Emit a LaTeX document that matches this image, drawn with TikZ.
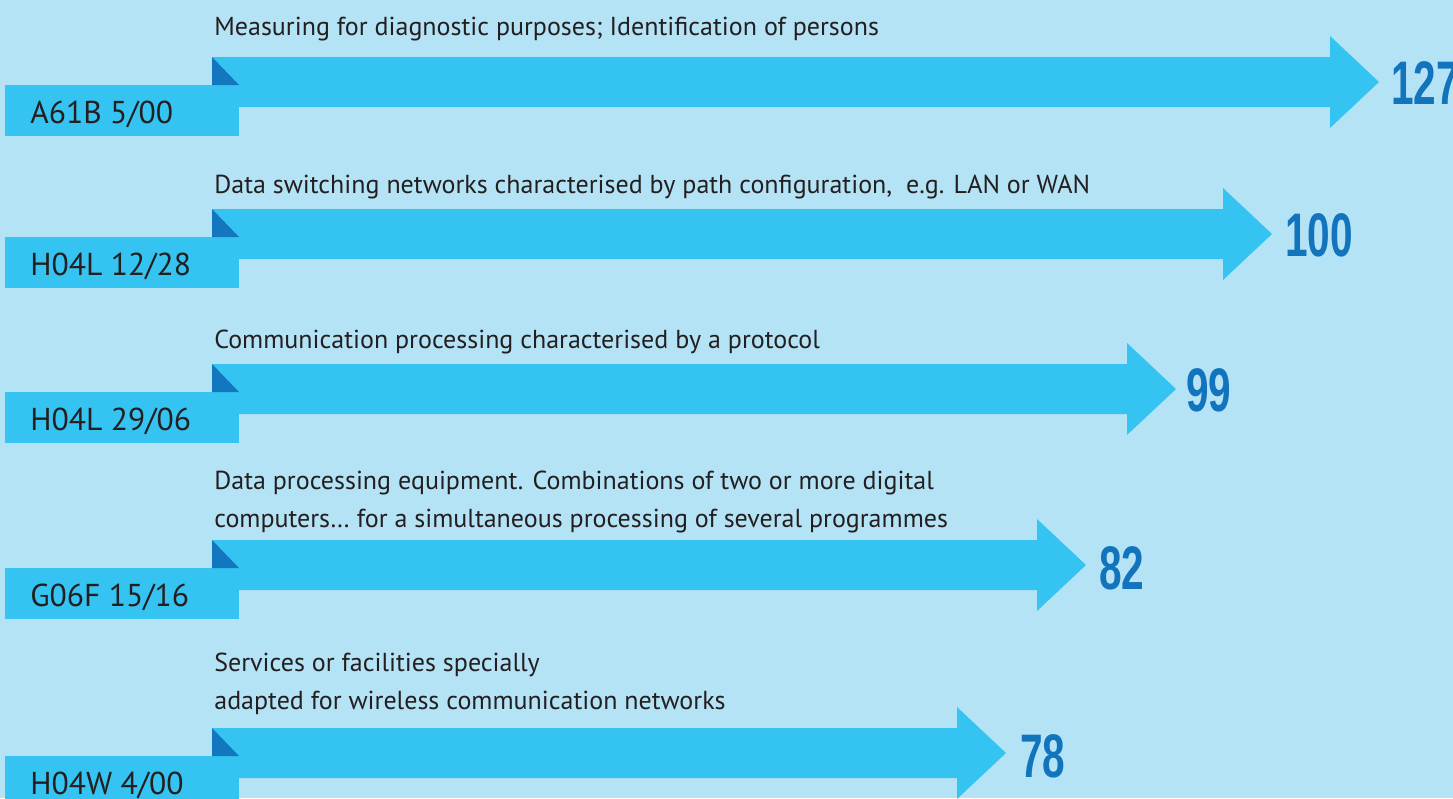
\documentclass[tikz,border=0pt]{standalone}
\usepackage{fontspec}
\setmainfont{PT Sans}
\newfontfamily\numfont{Liberation Sans}
\definecolor{bgblue}{HTML}{B5E3F6}
\definecolor{arrowblue}{HTML}{35C4F2}
\definecolor{folddark}{HTML}{1277BF}
\definecolor{numblue}{HTML}{1274BD}
\definecolor{txtgray}{HTML}{231F20}
\begin{document}
\begin{tikzpicture}[x=0.02cm,y=-0.02cm,line join=round,
	arrowbody/.style={fill=arrowblue},
	foldtri/.style={fill=folddark},
	codetext/.style={anchor=base west,inner sep=0pt,text=txtgray,font=\fontsize{18}{20}\selectfont},
	desc/.style={anchor=base west,inner sep=0pt,align=left,text=txtgray,font=\fontsize{14.8}{21.6}\selectfont},
	count/.style={anchor=base west,inner sep=0pt,xscale=0.66,text=numblue,font=\numfont\bfseries\fontsize{35}{36}\selectfont}]
	% khung nen
	\path[use as bounding box,fill=bgblue] (0,0) rectangle (1453,798);
	\clip (0,0) rectangle (1453,798);
	% hang 1
	\begin{scope}[shift={(0,57)}]
		\def\hx{1330} % chan dau mui ten
		\fill[arrowbody] (212,0)--(\hx,0)--(\hx,-21)--(\hx+49,25)--(\hx,71)--(\hx,50)--(212,50)--cycle;
		\fill[arrowbody] (5,28) rectangle (239,79);
		\fill[foldtri] (212,0)--(212,28)--(239,28)--cycle;
		\node[codetext] (c1) at (30,66) {A61B 5/00};
		\node[count] (n1) at (\hx+61,47) {127};
		\node[desc] (d1) at (214,-22) {Measuring for diagnostic purposes; Identification of persons};
	\end{scope}
	% hang 2
	\begin{scope}[shift={(0,209)}]
		\def\hx{1223}
		\fill[arrowbody] (212,0)--(\hx,0)--(\hx,-21)--(\hx+49,25)--(\hx,71)--(\hx,50)--(212,50)--cycle;
		\fill[arrowbody] (5,28) rectangle (239,79);
		\fill[foldtri] (212,0)--(212,28)--(239,28)--cycle;
		\node[codetext] (c2) at (30,66) {H04L 12/28};
		\node[count] (n2) at (\hx+62,47) {100};
		\node[desc] (d2) at (214,-16) {Data switching networks characterised by path configuration,\ \ e.g. LAN or WAN};
	\end{scope}
	% hang 3
	\begin{scope}[shift={(0,364)}]
		\def\hx{1127}
		\fill[arrowbody] (212,0)--(\hx,0)--(\hx,-21)--(\hx+49,25)--(\hx,71)--(\hx,50)--(212,50)--cycle;
		\fill[arrowbody] (5,28) rectangle (239,79);
		\fill[foldtri] (212,0)--(212,28)--(239,28)--cycle;
		\node[codetext] (c3) at (30,66) {H04L 29/06};
		\node[count] (n3) at (\hx+59,47) {99};
		\node[desc] (d3) at (214,-16) {Communication processing characterised by a protocol};
	\end{scope}
	% hang 4 (hai dong chu)
	\begin{scope}[shift={(0,540)}]
		\def\hx{1037}
		\fill[arrowbody] (212,0)--(\hx,0)--(\hx,-21)--(\hx+49,25)--(\hx,71)--(\hx,50)--(212,50)--cycle;
		\fill[arrowbody] (5,28) rectangle (239,79);
		\fill[foldtri] (212,0)--(212,28)--(239,28)--cycle;
		\node[codetext] (c4) at (30,66) {G06F 15/16};
		\node[count] (n4) at (\hx+62,49) {82};
		\node[desc] (d4) at (214,-13) {Data processing equipment. Combinations of two or more digital\\computers\ldots\ for a simultaneous processing of several programmes};
	\end{scope}
	% hang 5 (hai dong chu)
	\begin{scope}[shift={(0,728)}]
		\def\hx{957}
		\fill[arrowbody] (212,0)--(\hx,0)--(\hx,-21)--(\hx+49,25)--(\hx,71)--(\hx,50)--(212,50)--cycle;
		\fill[arrowbody] (5,28) rectangle (239,79);
		\fill[foldtri] (212,0)--(212,28)--(239,28)--cycle;
		\node[codetext] (c5) at (30,66) {H04W 4/00};
		\node[count] (n5) at (\hx+63,49) {78};
		\node[desc] (d5) at (214,-19) {Services or facilities specially\\adapted for wireless communication networks};
	\end{scope}
\end{tikzpicture}
\end{document}
